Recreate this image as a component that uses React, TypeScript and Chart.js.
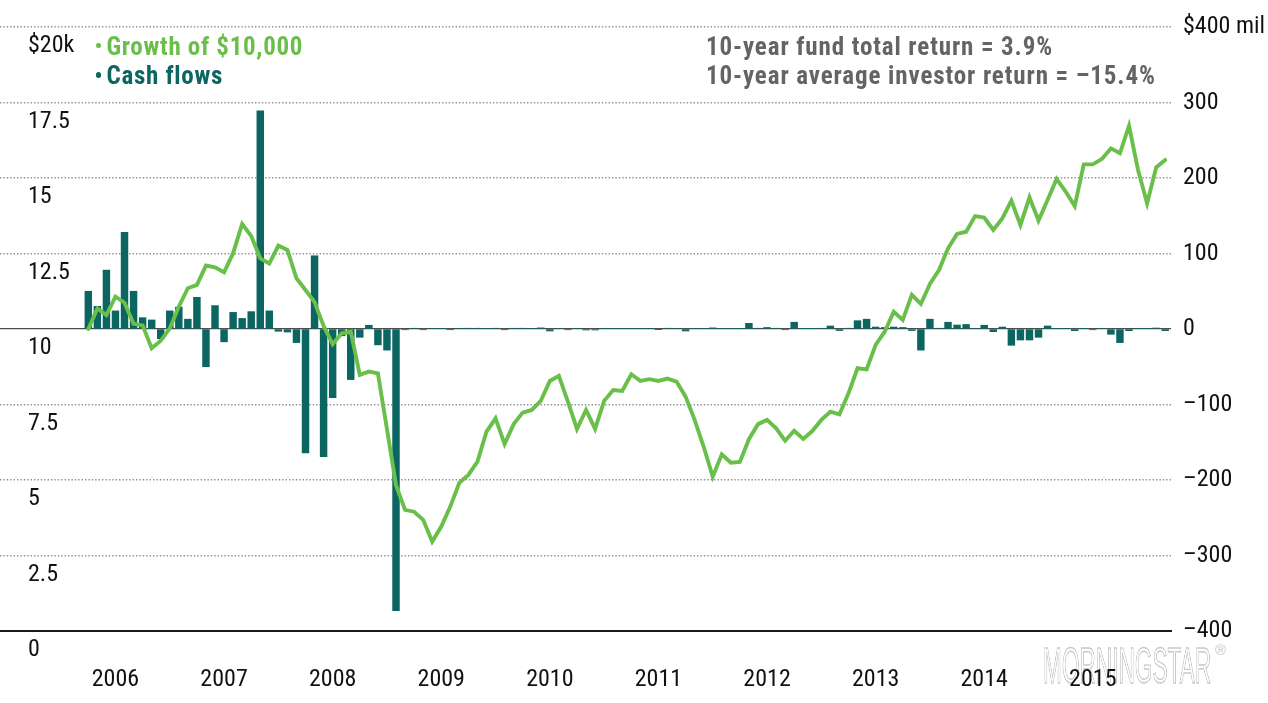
import React, { useEffect, useRef } from 'react';
import { Chart, registerables } from 'chart.js';

Chart.register(...registerables);

// ---- Data -------------------------------------------------------------
// Monthly points, first point = April 2006 (index 0), last = March 2016.
const yearLabels = ['2006', '2007', '2008', '2009', '2010', '2011', '2012', '2013', '2014', '2015'];

// Growth of $10,000 (in $ thousands)
const growthOf10k = [
  10.0, 10.68, 10.46, 11.07, 10.87, 10.17, 10.12, 9.36, 9.61, 10.02,
  10.74, 11.35, 11.46, 12.1, 12.04, 11.88, 12.51, 13.48, 13.08, 12.34,
  12.17, 12.76, 12.62, 11.68, 11.29, 10.89, 10.1, 9.5, 9.86, 9.91,
  8.48, 8.59, 8.53, 6.69, 4.83, 4.01, 3.95, 3.68, 2.96, 3.46,
  4.12, 4.91, 5.17, 5.61, 6.6, 7.04, 6.19, 6.85, 7.23, 7.32,
  7.62, 8.28, 8.45, 7.59, 6.69, 7.32, 6.69, 7.62, 7.98, 7.95,
  8.5, 8.28, 8.34, 8.28, 8.36, 8.26, 7.76, 6.99, 6.1, 5.11,
  5.85, 5.57, 5.6, 6.35, 6.85, 6.99, 6.71, 6.3, 6.63, 6.36,
  6.62, 6.99, 7.26, 7.17, 7.87, 8.7, 8.66, 9.47, 9.91, 10.57,
  10.3, 11.13, 10.83, 11.49, 11.95, 12.67, 13.15, 13.22, 13.74, 13.69,
  13.28, 13.66, 14.25, 13.44, 14.36, 13.59, 14.27, 14.97, 14.55, 14.07,
  15.45, 15.45, 15.63, 15.98, 15.82, 16.73, 15.26, 14.16, 15.35, 15.6,
];

// Monthly cash flows ($ mil)
const cashFlows = [
  50, 30, 78, 24, 128, 50, 15, 12, -13, 24,
  29, 13, 42, -50, 31, -17, 22, 14, 23, 289,
  24, -3, -4, -18, -164, 97, -169, -91, -9, -67,
  -11, 5, -21, -28, -373, -1, 1, -1, 0.5, 0.5,
  -1, 0.5, 1, 1, 0.5, 1, -1, 1, 1, 0.5,
  1.5, -2.6, 0.5, -1, 0.5, -1.3, -1.3, 0.5, 0.5, 0.5,
  0.5, 0.5, 0.5, -0.5, 1, 0.5, -2.6, 0.5, 0.5, 1.5,
  0.5, 0.5, 0.5, 7.5, 1, 2, 1, -1, 9, 0.5,
  0.5, 0.5, 4, -2, 1, 11, 13, 2.6, 2, 2.6,
  2, -2, -28, 13, 1, 9, 5.3, 6, 0.5, 5,
  -3.5, 2.6, -21.6, -14.6, -14.6, -11, 4, 0.5, 0.5, -2.2,
  0.5, -1, 0.5, -7, -18, -2.2, 0.5, 0.5, 1.3, -2.2,
];

const leftTickLabels = ['0', '2.5', '5', '7.5', '10', '12.5', '15', '17.5', '$20k'];
const rightTickLabels = ['\u2013400', '\u2013300', '\u2013200', '\u2013100', '0', '100', '200', '300', '$400 mil'];
const seriesNames = ['Growth of $10,000', 'Cash flows'];
const noteLines = ['10-year fund total return = 3.9%', '10-year average investor return = \u201315.4%'];

// ---- Style --------------------------------------------------------------
const GREEN = '#6abf4b';
const TEAL = '#0b6561';
const NOTE_GRAY = '#646464';
const COND_FONT = "'Roboto Condensed', 'Liberation Sans', Arial, sans-serif";
const LOGO_FONT = "'Liberation Sans', Arial, sans-serif";
const MID_YEAR_INDEX = 3; // July of first year relative to April start

export default function App() {
  const canvasRef = useRef<HTMLCanvasElement | null>(null);

  useEffect(() => {
    const canvas = canvasRef.current;
    if (!canvas) return;
    const tickFont = { family: COND_FONT, size: 24, weight: 'normal' as const, lineHeight: 1.2 };
    const chart = new Chart(canvas, {
      type: 'bar',
      data: {
        datasets: [
          {
            type: 'line',
            label: seriesNames[0],
            data: growthOf10k.map((v, i) => ({ x: i, y: v })),
            xAxisID: 'x',
            yAxisID: 'y',
            borderColor: GREEN,
            backgroundColor: GREEN,
            borderWidth: 3.9,
            pointRadius: 0,
            tension: 0,
            borderCapStyle: 'round',
            order: 0,
            clip: false,
          } as any,
          {
            type: 'bar',
            label: seriesNames[1],
            data: cashFlows.map((v, i) => ({ x: i, y: v })),
            xAxisID: 'x',
            yAxisID: 'y1',
            backgroundColor: TEAL,
            barThickness: 6.8,
            order: 1,
          } as any,
        ],
      },
      options: {
        responsive: false,
        animation: false,
        devicePixelRatio: 1,
        layout: { padding: { top: 27, left: 0, right: 0, bottom: 0 } },
        plugins: { legend: { display: false }, tooltip: { enabled: false } },
        scales: {
          x: {
            type: 'linear',
            min: -9.76,
            max: 119.64,
            offset: false,
            grid: { display: false, drawTicks: false, offset: false },
            border: { display: true, color: '#1a1a1a', width: 2 },
            afterBuildTicks: (scale: any) => {
              scale.ticks = yearLabels.map((_, k) => ({ value: MID_YEAR_INDEX + 12 * k }));
            },
            afterFit: (scale: any) => {
              scale.height = 72;
              scale.paddingLeft = 0;
              scale.paddingRight = 0;
            },
            ticks: {
              autoSkip: false,
              maxRotation: 0,
              padding: 35,
              color: '#111',
              font: tickFont,
              callback: (_v: any, idx: number) => yearLabels[idx],
            },
          },
          y: {
            type: 'linear',
            position: 'left',
            min: 0,
            max: 20,
            grid: { display: false, drawTicks: false },
            border: { display: false },
            afterFit: (scale: any) => {
              scale.width = 0;
              scale.paddingTop = 0;
              scale.paddingBottom = 0;
            },
            ticks: {
              stepSize: 2.5,
              mirror: true,
              padding: 28,
              labelOffset: 19,
              color: '#111',
              font: tickFont,
              autoSkip: false,
              callback: (_v: any, idx: number) => leftTickLabels[idx],
            },
          },
          y1: {
            type: 'linear',
            position: 'right',
            min: -400,
            max: 400,
            grid: {
              drawTicks: false,
              color: (ctx: any) =>
                ctx.tick && ctx.tick.value === -400
                  ? 'rgba(0,0,0,0)'
                  : ctx.tick && ctx.tick.value === 0
                  ? '#4d4d4d'
                  : '#8a9297',
              lineWidth: (ctx: any) => (ctx.tick && ctx.tick.value === 0 ? 1.2 : 1.5),
            },
            border: {
              display: false,
              dash: (ctx: any) => (ctx.tick && ctx.tick.value !== 0 ? [1.4, 2] : []),
            },
            afterFit: (scale: any) => {
              scale.width = 97;
              scale.paddingTop = 0;
              scale.paddingBottom = 0;
            },
            ticks: {
              stepSize: 100,
              padding: 12,
              color: '#111',
              font: tickFont,
              autoSkip: false,
              callback: (_v: any, idx: number) => rightTickLabels[idx],
            },
          },
        },
      } as any,
    });
    return () => chart.destroy();
  }, []);

  const dot = (color: string): React.CSSProperties => ({
    display: 'inline-block',
    width: 5.5,
    height: 5.5,
    borderRadius: '50%',
    background: color,
    marginRight: 5.3,
    position: 'relative',
    top: -6.5,
  });

  const textBlock: React.CSSProperties = {
    position: 'absolute',
    top: 31.7,
    font: `bold 25px ${COND_FONT}`,
    lineHeight: '29.5px',
    letterSpacing: '0.8px',
    whiteSpace: 'nowrap',
    zIndex: 2,
  };

  return (
    <div style={{ position: 'absolute', left: 0, top: 0, width: 1268, height: 703, background: '#fff', overflow: 'hidden' }}>
      <div
        style={{
          position: 'absolute',
          left: 1043,
          top: 640.7,
          font: `50px ${LOGO_FONT}`,
          lineHeight: '50px',
          color: 'transparent',
          WebkitTextStroke: '1.4px #c9c9c9',
          transform: 'scaleX(0.453)',
          transformOrigin: 'left top',
          willChange: 'transform',
          whiteSpace: 'nowrap',
          zIndex: 0,
        }}
      >
        MORNINGSTAR
      </div>
      <div
        style={{
          position: 'absolute',
          left: 1215,
          top: 641,
          font: `15px ${LOGO_FONT}`,
          color: '#c9c9c9',
          zIndex: 0,
        }}
      >
        ®
      </div>
      <canvas
        ref={canvasRef}
        width={1268}
        height={703}
        style={{ position: 'absolute', left: 0, top: 0, zIndex: 1 }}
      />
      <div style={{ ...textBlock, left: 95.7, letterSpacing: '0.7px' }}>
        <div style={{ color: GREEN }}>
          <span style={dot(GREEN)} />
          {seriesNames[0]}
        </div>
        <div style={{ color: TEAL }}>
          <span style={dot(TEAL)} />
          {seriesNames[1]}
        </div>
      </div>
      <div style={{ ...textBlock, left: 706, color: NOTE_GRAY, letterSpacing: '0.9px' }}>
        {noteLines.map((t) => (
          <div key={t}>{t}</div>
        ))}
      </div>
    </div>
  );
}
